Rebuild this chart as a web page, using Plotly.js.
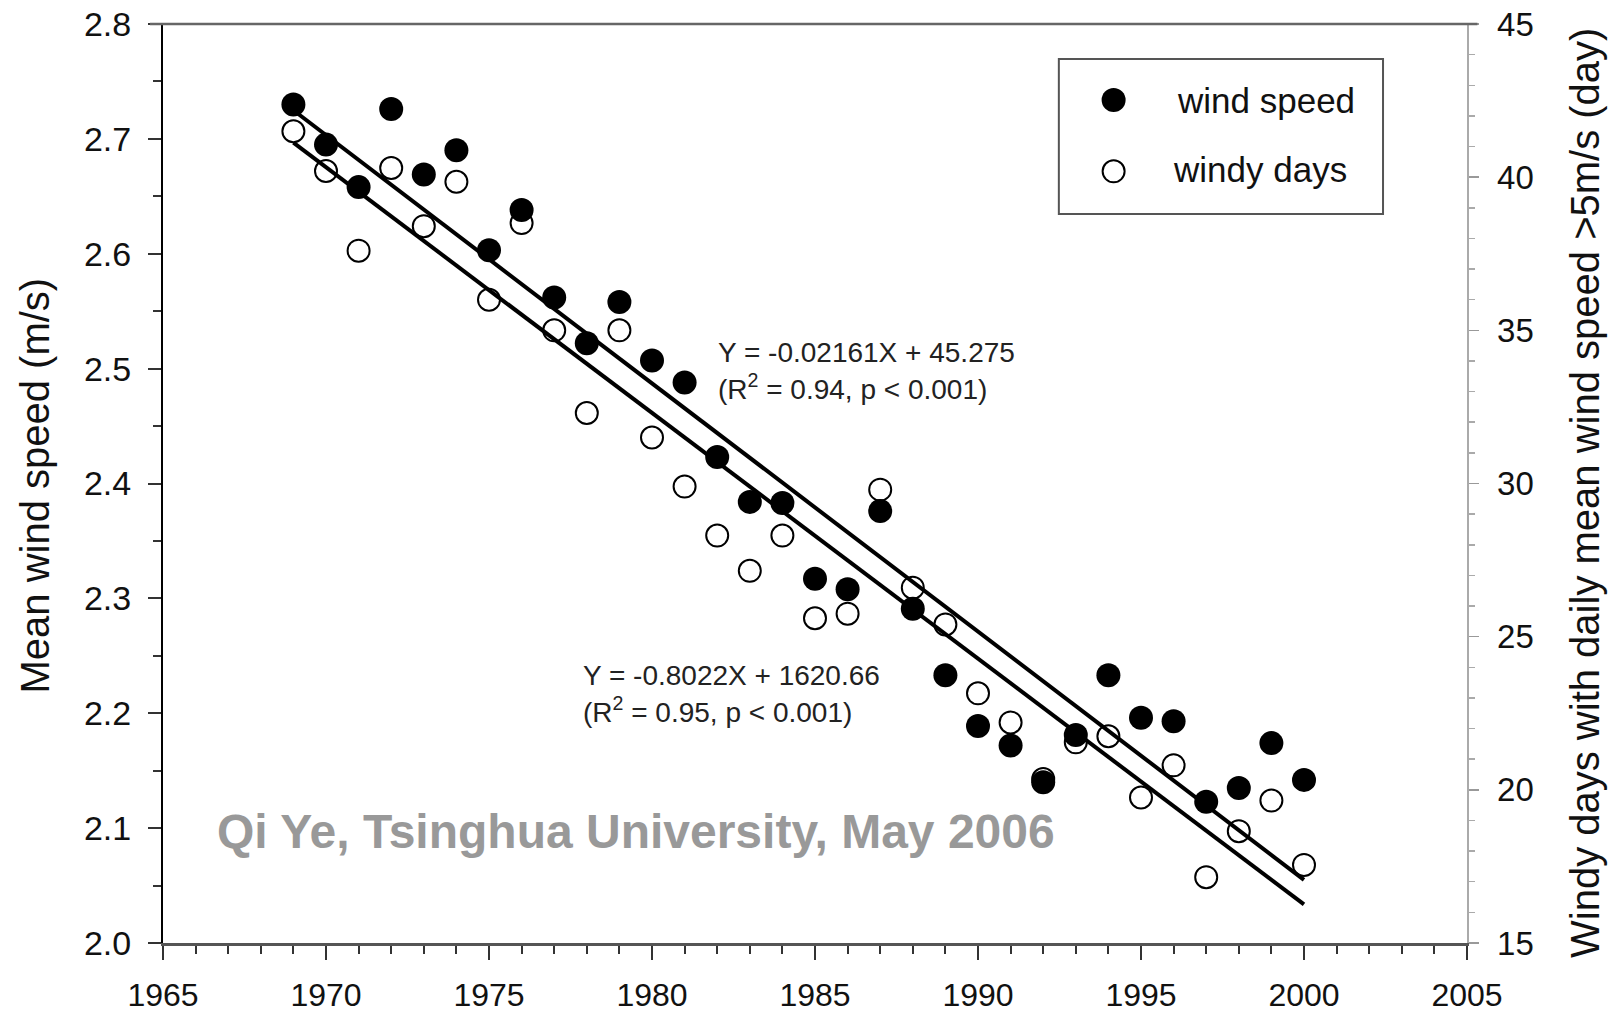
<!DOCTYPE html>
<html>
<head>
<meta charset="utf-8">
<script src="https://cdn.plot.ly/plotly-3.0.1.min.js"></script>
<style>html,body{margin:0;padding:0;background:#fff;}#chart{width:1610px;height:1014px;}</style>
</head>
<body>
<div id="chart"></div>
<script>
// ---- data ----
const years = [1969,1970,1971,1972,1973,1974,1975,1976,1977,1978,1979,1980,1981,1982,1983,1984,
               1985,1986,1987,1988,1989,1990,1991,1992,1993,1994,1995,1996,1997,1998,1999,2000];
const windSpeed = [2.730,2.695,2.658,2.726,2.669,2.690,2.603,2.638,2.562,2.522,2.558,2.507,2.488,2.423,2.384,2.383,
                   2.317,2.308,2.376,2.291,2.233,2.189,2.172,2.140,2.181,2.233,2.196,2.193,2.123,2.135,2.174,2.142];
const windyDays = [41.5,40.2,37.6,40.3,38.4,39.85,36.0,38.5,35.0,32.3,35.0,31.5,29.9,28.3,27.15,28.3,
                   25.6,25.75,29.8,26.6,25.4,23.15,22.2,20.35,21.55,21.75,19.75,20.8,17.15,18.65,19.65,17.55];
// regression coefficients printed on the chart
const speedFit = {slope: -0.02161, intercept: 45.275};
const daysFit  = {slope: -0.8022,  intercept: 1620.66};
const fitYears = [1969, 2000];
// legend
const legendLabels = ['wind speed', 'windy days'];
const legendX = [0.5, 0.5];
const legendY = [0.735, 0.275];
// axis ticks
const xTicks = [1965,1970,1975,1980,1985,1990,1995,2000,2005];

const FONT = 'Liberation Sans, Arial, Helvetica, sans-serif';

const speedLine = fitYears.map(x => speedFit.slope * x + speedFit.intercept);
const daysLine  = fitYears.map(x => daysFit.slope * x + daysFit.intercept);

const traces = [
  {x: fitYears, y: speedLine, mode: 'lines', line: {color: '#000', width: 4}, xaxis: 'x', yaxis: 'y', showlegend: false, hoverinfo: 'skip'},
  {x: fitYears, y: daysLine, mode: 'lines', line: {color: '#000', width: 4}, xaxis: 'x', yaxis: 'y2', showlegend: false, hoverinfo: 'skip'},
  {x: years, y: windyDays, mode: 'markers', name: 'windy days', xaxis: 'x', yaxis: 'y2',
   marker: {symbol: 'circle-open', size: 22, color: '#000', line: {color: '#000', width: 2}}, showlegend: false},
  {x: years, y: windSpeed, mode: 'markers', name: 'wind speed', xaxis: 'x', yaxis: 'y',
   marker: {symbol: 'circle', size: 24, color: '#000', line: {color: '#000', width: 0}}, showlegend: false},
  // legend symbols, in a hidden 0..1 frame placed inside the legend box
  {x: [legendX[0]], y: [legendY[0]], mode: 'markers', xaxis: 'x2', yaxis: 'y3', showlegend: false, hoverinfo: 'skip',
   marker: {symbol: 'circle', size: 24, color: '#000', line: {color: '#000', width: 0}}},
  {x: [legendX[1]], y: [legendY[1]], mode: 'markers', xaxis: 'x2', yaxis: 'y3', showlegend: false, hoverinfo: 'skip',
   marker: {symbol: 'circle-open', size: 22, color: '#000', line: {color: '#000', width: 2}}}
];

// legend box in paper coords
const lgX0 = 0.687, lgX1 = 0.9356, lgY0 = 0.7933, lgY1 = 0.9619;

const layout = {
  width: 1610, height: 1014,
  margin: {l: 163, r: 143, t: 24, b: 71},
  paper_bgcolor: '#fff', plot_bgcolor: 'rgba(0,0,0,0)',
  showlegend: false,
  font: {family: FONT, color: '#111'},
  xaxis: {
    range: [1965, 2005], tickvals: xTicks, ticks: 'outside', ticklen: 14, tickwidth: 2, tickcolor: '#333',
    showline: true, linecolor: '#555', linewidth: 3, showgrid: false, zeroline: false,
    tickfont: {size: 32, family: FONT, color: '#111'}, ticklabelstandoff: 8,
    minor: {dtick: 1, tick0: 1965, ticks: 'outside', ticklen: 8, tickwidth: 2, tickcolor: '#333', showgrid: false},
    fixedrange: true, anchor: 'y'
  },
  yaxis: {
    range: [2.0, 2.8], dtick: 0.1, tick0: 2.0, tickformat: '.1f', ticks: 'outside', ticklen: 13, tickwidth: 2, tickcolor: '#333',
    showline: true, linecolor: '#000', linewidth: 2, showgrid: false, zeroline: false,
    tickfont: {size: 34, family: FONT, color: '#111'}, ticklabelstandoff: 10,
    minor: {dtick: 0.05, ticks: 'outside', ticklen: 8, tickwidth: 2, tickcolor: '#333', showgrid: false},
    fixedrange: true, anchor: 'x'
  },
  yaxis2: {
    overlaying: 'y', side: 'right', anchor: 'x', range: [15, 45], dtick: 5, tick0: 15, ticks: 'outside', ticklen: 10, tickwidth: 1.5, tickcolor: '#999',
    showline: true, linecolor: '#aaa', linewidth: 1.5, showgrid: false, zeroline: false,
    tickfont: {size: 33, family: FONT, color: '#111'}, ticklabelstandoff: 12,
    minor: {dtick: 1, ticks: 'outside', ticklen: 6, tickwidth: 1.5, tickcolor: '#aaa', showgrid: false},
    fixedrange: true
  },
  xaxis2: {domain: [lgX0, lgX0 + 0.084], anchor: 'y3', range: [0, 1], visible: false, fixedrange: true},
  yaxis3: {domain: [lgY0, lgY1], anchor: 'x2', range: [0, 1], visible: false, fixedrange: true},
  shapes: [
    {type: 'line', xref: 'paper', yref: 'paper', x0: -0.01, x1: 1.008, y0: 1, y1: 1, line: {color: '#666', width: 2.5}},
    {type: 'rect', xref: 'paper', yref: 'paper', x0: lgX0, x1: lgX1, y0: lgY0, y1: lgY1, line: {color: '#555', width: 2}, fillcolor: 'rgba(0,0,0,0)'}
  ],
  annotations: [
    {xref: 'paper', yref: 'paper', x: -0.098, y: 0.498, text: 'Mean wind speed (m/s)', textangle: -90, showarrow: false,
     xanchor: 'center', yanchor: 'middle', font: {size: 40, family: FONT, color: '#111'}},
    {xref: 'paper', yref: 'paper', x: 1.0905, y: 0.4897, text: 'Windy days with daily mean wind speed &gt;5m/s (day)', textangle: -90, showarrow: false,
     xanchor: 'center', yanchor: 'middle', font: {size: 40, family: FONT, color: '#111'}},
    {xref: 'paper', yref: 'paper', x: 0.424, y: 0.643, text: 'Y = -0.02161X + 45.275', showarrow: false,
     xanchor: 'left', yanchor: 'middle', font: {size: 28, family: FONT, color: '#222'}},
    {xref: 'paper', yref: 'paper', x: 0.424, y: 0.605, text: '(R<sup>2</sup> = 0.94, p &lt; 0.001)', showarrow: false,
     xanchor: 'left', yanchor: 'middle', font: {size: 28, family: FONT, color: '#222'}},
    {xref: 'paper', yref: 'paper', x: 0.3205, y: 0.2916, text: 'Y = -0.8022X + 1620.66', showarrow: false,
     xanchor: 'left', yanchor: 'middle', font: {size: 28, family: FONT, color: '#222'}},
    {xref: 'paper', yref: 'paper', x: 0.3205, y: 0.2535, text: '(R<sup>2</sup> = 0.95, p &lt; 0.001)', showarrow: false,
     xanchor: 'left', yanchor: 'middle', font: {size: 28, family: FONT, color: '#222'}},
    {xref: 'paper', yref: 'paper', x: 0.0400, y: 0.1208, text: '<b>Qi Ye, Tsinghua University, May 2006</b>', showarrow: false,
     xanchor: 'left', yanchor: 'middle', font: {size: 48, family: FONT, color: '#999'}},
    {xref: 'paper', yref: 'paper', x: 0.7760, y: 0.9173, text: legendLabels[0], showarrow: false,
     xanchor: 'left', yanchor: 'middle', font: {size: 35, family: FONT, color: '#111'}},
    {xref: 'paper', yref: 'paper', x: 0.7730, y: 0.842, text: legendLabels[1], showarrow: false,
     xanchor: 'left', yanchor: 'middle', font: {size: 35, family: FONT, color: '#111'}}
  ]
};

Plotly.newPlot('chart', traces, layout, {displayModeBar: false, staticPlot: true});
</script>
</body>
</html>
